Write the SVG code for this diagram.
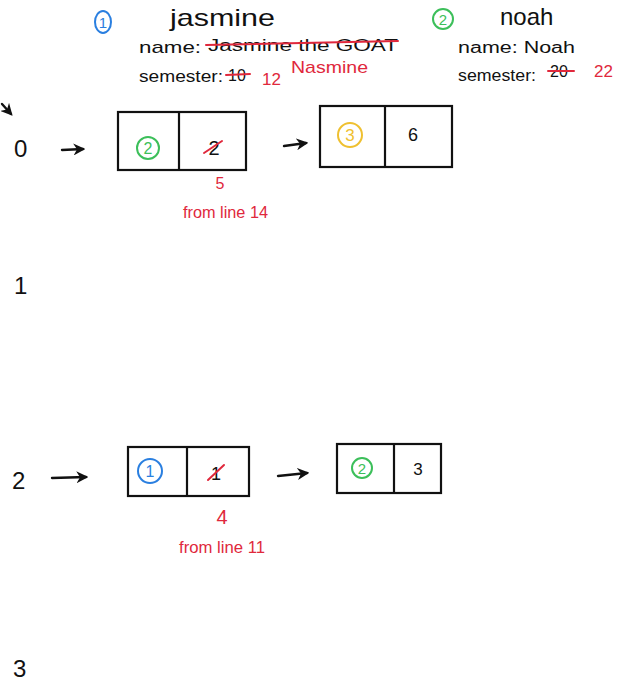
<svg xmlns="http://www.w3.org/2000/svg" width="631" height="681" viewBox="0 0 631 681">
<style>
text{font-family:"Liberation Sans","DejaVu Sans",sans-serif;fill:#111}
.red{fill:#e0283c}
.box{fill:none;stroke:#111;stroke-width:2.2}
.conn{fill:none;stroke:#111;stroke-width:2.4;stroke-linecap:round}
.strike{stroke:#e0283c;stroke-width:2;fill:none;stroke-linecap:round}
.cb{fill:none;stroke:#2a7fe0;stroke-width:2}
.cg{fill:none;stroke:#3cbf5a;stroke-width:2}
.cy{fill:none;stroke:#efc030;stroke-width:2}
</style>
<defs>
<marker id="ah" viewBox="0 0 10 10" refX="8" refY="5" markerWidth="5" markerHeight="5" orient="auto"><path d="M0,0 L10,5 L0,10 L3,5 Z" fill="#111"/></marker>
</defs>
<rect width="631" height="681" fill="#fff"/>

<g id="jasmine-info">
<ellipse class="cb" cx="103" cy="22" rx="8" ry="11"/><text x="103" y="28" font-size="15" text-anchor="middle" style="fill:#2a7fe0">1</text>
<text x="170" y="26" font-size="24" textLength="105" lengthAdjust="spacingAndGlyphs">jasmine</text>
<text x="139" y="53" font-size="17" textLength="62" lengthAdjust="spacingAndGlyphs">name:</text>
<text x="208" y="51" font-size="16" textLength="190" lengthAdjust="spacingAndGlyphs">Jasmine the GOAT</text>
<line class="strike" x1="206" y1="45" x2="398" y2="41"/>
<text x="139" y="82" font-size="16" textLength="84" lengthAdjust="spacingAndGlyphs">semester:</text>
<text x="228" y="81" font-size="16">10</text>
<line class="strike" x1="226" y1="75" x2="250" y2="74"/>
<text class="red" x="262" y="85" font-size="17">12</text>
<text class="red" x="291" y="73" font-size="17" textLength="77" lengthAdjust="spacingAndGlyphs">Nasmine</text>
</g>

<g id="noah-info">
<ellipse class="cg" cx="443" cy="19" rx="10" ry="10"/><text x="443" y="25" font-size="15" text-anchor="middle" style="fill:#3cbf5a">2</text>
<text x="500" y="25" font-size="24">noah</text>
<text x="458" y="53" font-size="16" textLength="117" lengthAdjust="spacingAndGlyphs">name: Noah</text>
<text x="458" y="81" font-size="16" textLength="78" lengthAdjust="spacingAndGlyphs">semester:</text>
<text x="550" y="77" font-size="16">20</text>
<line class="strike" x1="548" y1="71" x2="574" y2="71"/>
<text class="red" x="594" y="77" font-size="17">22</text>
</g>

<g id="indices">
<text x="14" y="157" font-size="24">0</text>
<text x="14" y="294" font-size="24">1</text>
<text x="12" y="489" font-size="24">2</text>
<text x="13" y="677" font-size="24">3</text>
</g>

<g id="node-0a">
<rect class="box" x="118" y="112" width="128" height="58"/>
<line class="box" x1="179" y1="112" x2="179" y2="170"/>
<circle class="cg" cx="148" cy="148" r="11"/><text x="148" y="154" font-size="16" text-anchor="middle" style="fill:#3cbf5a">2</text>
<text x="214" y="155" font-size="20" text-anchor="middle">2</text>
<line class="strike" x1="204" y1="153" x2="222" y2="141"/>
<text class="red" x="220" y="189" font-size="16" text-anchor="middle">5</text>
<text class="red" x="183" y="218" font-size="16" textLength="85" lengthAdjust="spacingAndGlyphs">from line 14</text>
</g>

<g id="node-0b">
<rect class="box" x="320" y="106" width="132" height="61"/>
<line class="box" x1="385" y1="106" x2="385" y2="167"/>
<circle class="cy" cx="350" cy="135" r="12"/><text x="350" y="141" font-size="17" text-anchor="middle" style="fill:#efc030">3</text>
<text x="413" y="141" font-size="18" text-anchor="middle">6</text>
</g>

<g id="node-2a">
<rect class="box" x="128" y="447" width="121" height="49"/>
<line class="box" x1="187" y1="447" x2="187" y2="496"/>
<circle class="cb" cx="150" cy="471" r="12"/><text x="150" y="477" font-size="16" text-anchor="middle" style="fill:#2a7fe0">1</text>
<text x="216" y="480" font-size="18" text-anchor="middle">1</text>
<line class="strike" x1="208" y1="480" x2="224" y2="465"/>
<text class="red" x="222" y="524" font-size="20" text-anchor="middle">4</text>
<text class="red" x="179" y="553" font-size="16" textLength="86" lengthAdjust="spacingAndGlyphs">from line 11</text>
</g>

<g id="node-2b">
<rect class="box" x="337" y="444" width="104" height="49"/>
<line class="box" x1="394" y1="444" x2="394" y2="493"/>
<circle class="cg" cx="362" cy="468" r="10"/><text x="362" y="474" font-size="15" text-anchor="middle" style="fill:#3cbf5a">2</text>
<text x="418" y="475" font-size="17" text-anchor="middle">3</text>
</g>

<g id="connectors">
<path class="conn" d="M62,150 L83,149" marker-end="url(#ah)"/>
<path class="conn" d="M284,146 L306,143" marker-end="url(#ah)"/>
<path class="conn" d="M52,478 L86,477" marker-end="url(#ah)"/>
<path class="conn" d="M278,476 L307,473" marker-end="url(#ah)"/>
<path class="conn" d="M2,104 L11,114" marker-end="url(#ah)"/>
</g>
</svg>
